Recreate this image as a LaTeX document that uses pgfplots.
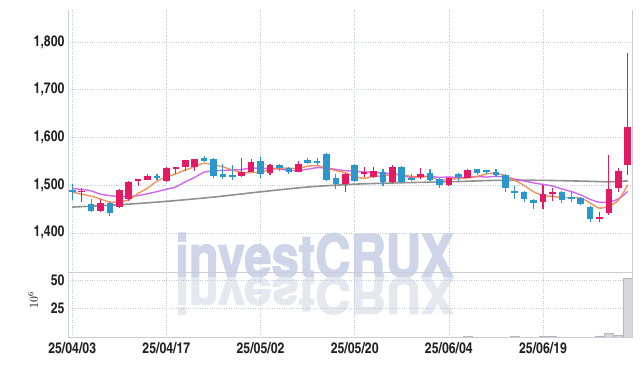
\documentclass[border=0pt]{standalone}
\usepackage{pgfplots}
\pgfplotsset{compat=1.18}
\usepackage{pgfplotstable}
\usepackage{fontspec}
\newfontfamily\tickfont{texgyreheroscn-bold.otf}
\newfontfamily\wmfont{texgyreheros-bold.otf}[FakeBold=2.5]
\definecolor{upred}{RGB}{228,27,100}
\definecolor{dnblue}{RGB}{42,152,204}
\definecolor{maA}{RGB}{240,135,75}
\definecolor{maB}{RGB}{205,85,235}
\definecolor{maC}{RGB}{125,125,125}
\definecolor{gridc}{RGB}{196,200,222}
\definecolor{framec}{RGB}{204,204,214}
\definecolor{wm}{RGB}{206,213,232}
\definecolor{wmr}{RGB}{230,232,240}
\definecolor{volc}{RGB}{214,214,222}

\pgfplotstableread{
i o h l c
1 1485 1493 1465 1488
3 1445 1470 1444 1463
5 1455 1492 1453 1490
6 1472 1509 1467 1507
7 1509 1513 1498 1512
8 1511 1523 1510 1519
10 1508 1537 1506 1535
11 1534 1539 1524 1538
12 1537 1553 1530 1552
13 1539 1555 1530 1554
18 1519 1557 1517 1528
19 1528 1554 1527 1549
21 1525 1545 1521 1543
24 1528 1550 1527 1545
29 1502 1526 1486 1523
31 1523 1537 1517 1528
32 1517 1537 1515 1530
34 1506 1543 1505 1539
37 1517 1535 1512 1523
40 1500 1518 1499 1516
42 1516 1533 1515 1531
50 1464 1500 1450 1482
51 1481 1494 1466 1486
56 1430 1443 1423 1434
57 1441 1564 1438 1492
58 1493 1535 1485 1530
59 1542 1777 1521 1621
}\up

\pgfplotstableread{
i o h l c
0 1490 1502 1468 1485
2 1461 1472 1444 1445
4 1462 1465 1435 1441
9 1519 1524 1511 1514
14 1557 1561 1549 1550
15 1554 1556 1514 1519
16 1523 1545 1512 1517
17 1521 1542 1510 1518
20 1550 1559 1516 1523
22 1543 1545 1530 1535
23 1535 1537 1524 1528
25 1552 1556 1545 1547
26 1550 1556 1543 1547
27 1566 1567 1508 1510
28 1514 1523 1492 1502
30 1542 1544 1507 1509
33 1528 1533 1499 1506
35 1539 1540 1504 1506
36 1514 1523 1509 1511
38 1525 1533 1508 1510
39 1512 1516 1495 1501
41 1523 1526 1509 1518
43 1533 1534 1521 1525
44 1531 1532 1523 1528
45 1528 1533 1518 1521
46 1521 1523 1485 1494
47 1488 1499 1472 1484
48 1486 1488 1464 1470
49 1468 1471 1449 1463
52 1486 1488 1462 1468
53 1475 1488 1464 1471
54 1474 1475 1459 1460
55 1454 1457 1423 1428
}\down

\pgfplotstableread{
i a b
0 1485 1493
1 1481 1491
2 1477 1488
3 1471 1481
4 1464.4 1478
5 1465.4 1476
6 1469.2 1476
7 1482.6 1478
8 1493.8 1482
9 1508.4 1486.4
10 1517.4 1491.4
11 1523.6 1496.4
12 1531.6 1507.1
13 1538.6 1516.2
14 1545.8 1527.1
15 1542.6 1530.0
16 1538.4 1531.0
17 1531.8 1531.7
18 1526.6 1532.6
19 1526.4 1536.1
20 1527.2 1534.9
21 1532.4 1535.4
22 1535.6 1533.7
23 1535.6 1531.1
24 1534.8 1530.6
25 1539.6 1533.4
26 1540.6 1536.5
27 1535.6 1535.6
28 1530.4 1533.0
29 1526.0 1530.4
30 1518.4 1529.0
31 1514.4 1527.5
32 1518.4 1527.0
33 1519.2 1524.8
34 1522.4 1524.2
35 1521.8 1520.1
36 1518.4 1516.4
37 1517.0 1517.7
38 1517.8 1518.5
39 1510.2 1516.3
40 1512.2 1517.0
41 1513.6 1516.0
42 1515.2 1516.1
43 1518.2 1518.0
44 1523.6 1516.9
45 1524.6 1518.4
46 1519.8 1516.7
47 1510.2 1512.7
48 1499.2 1508.7
49 1486.0 1504.8
50 1478.2 1501.4
51 1476.6 1498.2
52 1473.6 1491.9
53 1473.8 1486.5
54 1473.2 1479.6
55 1462.4 1470.3
56 1451.8 1464.2
57 1456.6 1465.1
58 1468.4 1471.1
59 1500.8 1487.0
}\ma

\pgfplotstableread{
i g
0 1454
5 1459
10 1466
15 1475
20 1486
25 1496
30 1502
35 1505
40 1507
45 1510
50 1510
55 1508
57 1507
59 1509
}\malong

\pgfplotstableread{
i v
42 0.6
47 0.6
50 0.8
51 0.8
56 0.9
57 3.3
58 1.6
59 51.5
}\vol

\pgfplotsset{
  panel/.style={
    scale only axis, width=564pt,
    xmin=-0.45, xmax=59.45,
    axis line style={draw=none},
    major tick length=0pt,
    xmajorgrids, ymajorgrids,
    major grid style={gridc, dotted, line width=0.6pt},
    xtick={0,10,20,30,40,50},
    clip=false,
    tick label style={font=\tickfont\fontsize{15}{15}\selectfont, text=black!88},
  },
  wick/.style={draw=none, mark=none, forget plot,
    error bars/.cd, y dir=plus, y explicit, error mark=none,
    error bar style={line width=1.1pt, draw=#1}},
  body/.style={draw=none, mark=none, forget plot,
    error bars/.cd, y dir=plus, y explicit, error mark=none,
    error bar style={line width=6.6pt, draw=#1}},
}

\begin{document}
\begin{tikzpicture}[x=1pt,y=1pt]
\path[use as bounding box] (0,0) rectangle (642,366);
% watermark and its reflection
\node[anchor=base west, inner sep=0pt, text=wm, yscale=1.2] at (175,89)
  {\wmfont\fontsize{49}{49}\selectfont investCRUX};
\node[anchor=base west, inner sep=0pt, text=wmr, yscale=-1.0] at (175,88)
  {\wmfont\fontsize{49}{49}\selectfont investCRUX};

\begin{axis}[panel,
  at={(68pt,94pt)}, anchor=south west, height=262pt,
  ymin=1318, ymax=1867,
  ytick={1400,1500,1600,1700,1800},
  yticklabels={{1,400},{1,500},{1,600},{1,700},{1,800}},
  xticklabels={},
]
\addplot[maC, line width=1.6pt, opacity=0.85, smooth] table[x=i, y=g] {\malong};
\addplot[maB, line width=1.4pt, opacity=0.9, smooth] table[x=i, y=b] {\ma};
\addplot[maA, line width=1.4pt, opacity=0.9, smooth] table[x=i, y=a] {\ma};

\addplot[wick=upred] table[x=i, y=l, y error plus expr=\thisrow{h}-\thisrow{l}] {\up};
\addplot[body=upred] table[x=i, y=o, y error plus expr=\thisrow{c}-\thisrow{o}] {\up};
\addplot[wick=dnblue] table[x=i, y=l, y error plus expr=\thisrow{h}-\thisrow{l}] {\down};
\addplot[body=dnblue] table[x=i, y=c, y error plus expr=\thisrow{o}-\thisrow{c}] {\down};

\draw[framec, line width=0.9pt] (rel axis cs:0,1) -- (rel axis cs:0,0) -- (rel axis cs:1,0) -- (rel axis cs:1,1);
\end{axis}

\begin{axis}[panel,
  at={(68pt,29pt)}, anchor=south west, height=65pt,
  ymin=0, ymax=57,
  ytick={25,50},
  yticklabels={25,50},
  xticklabels={25/04/03,25/04/17,25/05/02,25/05/20,25/06/04,25/06/19},
  xticklabel style={yshift=-2pt},
]
\addplot[ybar, bar width=8.5pt, bar shift=0pt, fill=volc, draw=volc!85!black, line width=0.4pt]
  table[x=i, y=v] {\vol};
\draw[framec, line width=0.9pt] (rel axis cs:0,1) -- (rel axis cs:0,0) -- (rel axis cs:1,0) -- (rel axis cs:1,1);
\end{axis}

\node[rotate=90] at (33,66) {\fontsize{12}{12}\selectfont $10^{6}$};
\end{tikzpicture}
\end{document}
